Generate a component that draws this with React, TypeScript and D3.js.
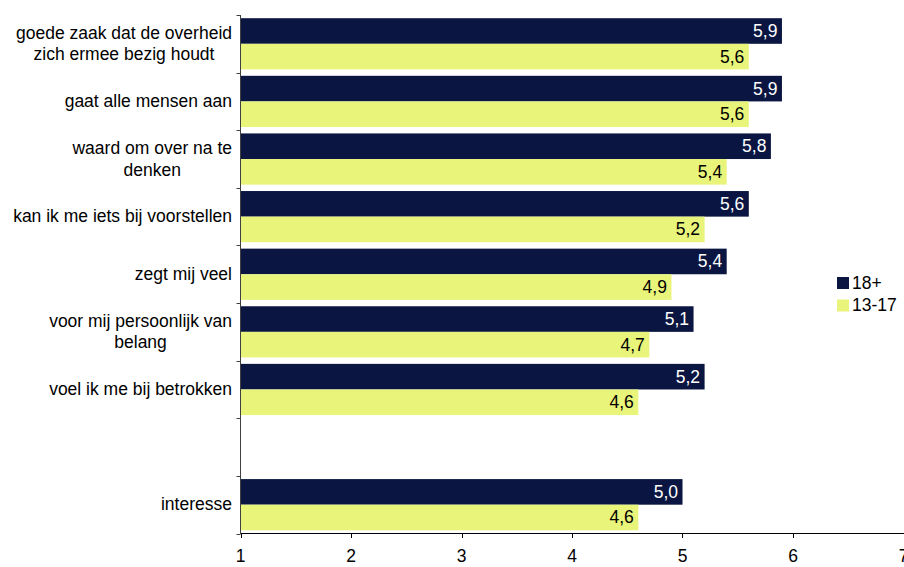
import React from "react";
import * as d3 from "d3";

const categories: string[] = [
  "goede zaak dat de overheid\nzich ermee bezig houdt",
  "gaat alle mensen aan",
  "waard om over na te\ndenken",
  "kan ik me iets bij voorstellen",
  "zegt mij veel",
  "voor mij persoonlijk van\nbelang",
  "voel ik me bij betrokken",
  "",
  "interesse",
];
const adults: (number | null)[] = [5.9, 5.9, 5.8, 5.6, 5.4, 5.1, 5.2, null, 5.0];
const teens: (number | null)[] = [5.6, 5.6, 5.4, 5.2, 4.9, 4.7, 4.6, null, 4.6];
const seriesNames = ["18+", "13-17"];
const xTicks = [1, 2, 3, 4, 5, 6, 7];

const W = 904;
const H = 567;
const FONT = "'Liberation Sans', Arial, sans-serif";
const NAVY = "#0a1641";
const YELLOW = "#e8f47a";

let ctx: CanvasRenderingContext2D | null = null;
function measure(t: string, size: number) {
  if (!ctx) ctx = document.createElement("canvas").getContext("2d");
  if (!ctx) return t.length * size * 0.5;
  ctx.font = `${size}px ${FONT}`;
  return ctx.measureText(t).width;
}

export default function App() {
  const x = d3.scaleLinear().domain([1, 7]).range([240.5, 903.5]);
  const y = d3.scaleBand<number>().domain(categories.map((_, i) => i)).range([15, 533.5]).padding(0);
  const bw = y.bandwidth();
  const inner = d3.scaleBand<number>().domain([0, 1]).range([0, bw]).paddingOuter(0.125).paddingInner(0);
  const fs = 17.5;
  const lineH = 21.5;
  const labelRight = 232;
  const fmt = (v: number) => d3.format(".1f")(v).replace(".", ",");

  return (
    <svg width={W} height={H} style={{ position: "absolute", left: 0, top: 0 }} fontFamily={FONT}>
      <rect width={W} height={H} fill="#fff" />
      {categories.map((c, i) => {
        const y0 = y(i)!;
        return (
          <g key={i}>
            {[adults[i], teens[i]].map((v, s) => {
              if (v == null) return null;
              const by = y0 + inner(s)!;
              const bh = inner.bandwidth();
              return (
                <g key={s}>
                  <rect x={x(1)} y={by} width={x(v) - x(1)} height={bh} fill={s === 0 ? NAVY : YELLOW} />
                  <text x={x(v) - 4.5} y={by + bh / 2} dy="0.34em" textAnchor="end" fontSize={fs} fill={s === 0 ? "#fff" : "#000"}>
                    {fmt(v)}
                  </text>
                </g>
              );
            })}
          </g>
        );
      })}
      <line x1={x(1)} x2={x(1)} y1={15} y2={533.5} stroke="#404040" strokeWidth={1} />
      {d3.range(categories.length + 1).map((k) => {
        const yy = Math.round(15 + k * bw) + 0.5;
        return <line key={k} x1={x(1) - 4} x2={x(1)} y1={yy} y2={yy} stroke="#404040" />;
      })}
      {categories.map((c, i) => {
        if (!c) return null;
        const lines = c.split("\n");
        const maxW = Math.max(...lines.map((l) => measure(l, fs)));
        const cx = labelRight - maxW / 2;
        const cy = y(i)! + bw / 2;
        return (
          <text key={i} fontSize={fs} textAnchor="middle" fill="#000">
            {lines.map((l, k) => (
              <tspan key={k} x={cx} y={cy + (k - (lines.length - 1) / 2) * lineH} dy="0.33em">
                {l}
              </tspan>
            ))}
          </text>
        );
      })}
      <line x1={x(1)} x2={W} y1={533.5} y2={533.5} stroke="#000" strokeWidth={1} />
      {xTicks.map((t) => (
        <g key={t}>
          <line x1={Math.round(x(t)) + 0.5} x2={Math.round(x(t)) + 0.5} y1={533.5} y2={538} stroke="#000" />
          <text x={x(t)} y={556} dy="0.34em" textAnchor="middle" fontSize={fs} fill="#000">
            {t}
          </text>
        </g>
      ))}
      {seriesNames.map((n, s) => (
        <g key={n} transform={`translate(837, ${277 + s * 22.5})`}>
          <rect width={12} height={12} fill={s === 0 ? NAVY : YELLOW} />
          <text x={15} y={6} dy="0.34em" fontSize={fs} fill="#000">
            {n}
          </text>
        </g>
      ))}
    </svg>
  );
}
